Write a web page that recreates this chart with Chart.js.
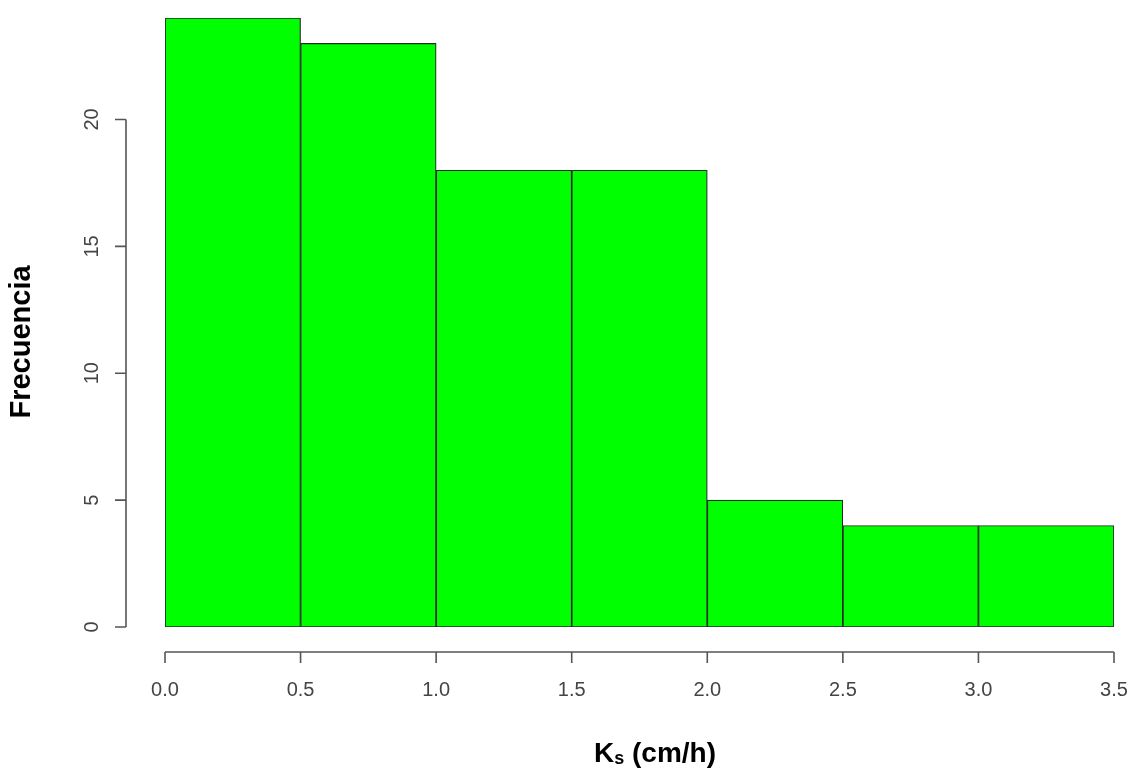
<!DOCTYPE html>
<html>
<head>
<meta charset="utf-8">
<script src="https://cdn.jsdelivr.net/npm/chart.js@4"></script>
<style>
  html, body { margin: 0; padding: 0; background: #ffffff; }
  #wrap { width: 1131px; height: 771px; position: relative; }
  canvas { display: block; }
</style>
</head>
<body>
<div id="wrap"><canvas id="hist" width="1131" height="771"></canvas></div>
<script>
// Histogram of saturated hydraulic conductivity (Ks)
const binEdges = [0, 0.5, 1.0, 1.5, 2.0, 2.5, 3.0, 3.5];
const counts = [24, 23, 18, 18, 5, 4, 4];
const xTickValues = [0, 0.5, 1.0, 1.5, 2.0, 2.5, 3.0, 3.5];
const xTickLabels = ['0.0', '0.5', '1.0', '1.5', '2.0', '2.5', '3.0', '3.5'];
const yTickValues = [0, 5, 10, 15, 20];
const yTickLabels = ['0', '5', '10', '15', '20'];
const yLabel = 'Frecuencia';

const barPoints = counts.map((c, i) => ({ x: (binEdges[i] + binEdges[i + 1]) / 2, y: c }));

const FONT = '"Liberation Sans", Arial, Helvetica, sans-serif';

// R-style detached axes drawn from the chart's own scales
const rAxes = {
  id: 'rAxes',
  afterDraw(chart) {
    const ctx = chart.ctx;
    const xs = chart.scales.x, ys = chart.scales.y;
    ctx.save();
    ctx.strokeStyle = '#555555';
    ctx.lineWidth = 1.6;
    ctx.fillStyle = '#444444';

    // x axis
    const xAxisY = 652;
    const x0 = xs.getPixelForValue(xTickValues[0]);
    const x1 = xs.getPixelForValue(xTickValues[xTickValues.length - 1]);
    ctx.beginPath();
    ctx.moveTo(x0, xAxisY); ctx.lineTo(x1, xAxisY);
    xTickValues.forEach(v => {
      const px = xs.getPixelForValue(v);
      ctx.moveTo(px, xAxisY); ctx.lineTo(px, xAxisY + 11);
    });
    ctx.stroke();
    ctx.font = '20px ' + FONT;
    ctx.textAlign = 'center';
    ctx.textBaseline = 'middle';
    xTickValues.forEach((v, i) => {
      ctx.fillText(xTickLabels[i], xs.getPixelForValue(v), 690);
    });

    // y axis
    const yAxisX = 126;
    const yA = ys.getPixelForValue(yTickValues[0]);
    const yB = ys.getPixelForValue(yTickValues[yTickValues.length - 1]);
    ctx.beginPath();
    ctx.moveTo(yAxisX, yA); ctx.lineTo(yAxisX, yB);
    yTickValues.forEach(v => {
      const py = ys.getPixelForValue(v);
      ctx.moveTo(yAxisX, py); ctx.lineTo(yAxisX - 11, py);
    });
    ctx.stroke();
    yTickValues.forEach((v, i) => {
      ctx.save();
      ctx.translate(92, ys.getPixelForValue(v));
      ctx.rotate(-Math.PI / 2);
      ctx.fillText(yTickLabels[i], 0, 0);
      ctx.restore();
    });

    // axis titles
    ctx.fillStyle = '#000000';
    ctx.save();
    ctx.translate(22, 342);
    ctx.rotate(-Math.PI / 2);
    ctx.font = 'bold 29px ' + FONT;
    ctx.fillText(yLabel, 0, 0);
    ctx.restore();

    // "Ks (cm/h)" with subscript s
    const bigFont = 'bold 28px ' + FONT;
    const subFont = 'bold 18px ' + FONT;
    ctx.textAlign = 'left';
    ctx.textBaseline = 'alphabetic';
    ctx.font = bigFont; const wK = ctx.measureText('K').width;
    ctx.font = subFont; const wS = ctx.measureText('s').width;
    ctx.font = bigFont; const wRest = ctx.measureText(' (cm/h)').width;
    const total = wK + wS + wRest;
    let tx = 655 - total / 2;
    const base = 762;
    ctx.font = bigFont; ctx.fillText('K', tx, base); tx += wK;
    ctx.font = subFont; ctx.fillText('s', tx, base + 2); tx += wS;
    ctx.font = bigFont; ctx.fillText(' (cm/h)', tx, base);
    ctx.restore();
  }
};

new Chart(document.getElementById('hist'), {
  type: 'bar',
  data: {
    datasets: [{
      data: barPoints,
      backgroundColor: '#00ff00',
      borderColor: '#2a2a2a',
      borderWidth: 1.2,
      borderSkipped: false,
      barPercentage: 1.0,
      categoryPercentage: 1.0
    }]
  },
  options: {
    responsive: false,
    animation: false,
    layout: { padding: { left: 165, right: 17, top: 18, bottom: 144 } },
    plugins: { legend: { display: false }, tooltip: { enabled: false } },
    scales: {
      x: { type: 'linear', min: binEdges[0], max: binEdges[binEdges.length - 1], display: false, offset: false },
      y: { min: 0, max: 24, display: false }
    }
  },
  plugins: [rAxes]
});
</script>
</body>
</html>
